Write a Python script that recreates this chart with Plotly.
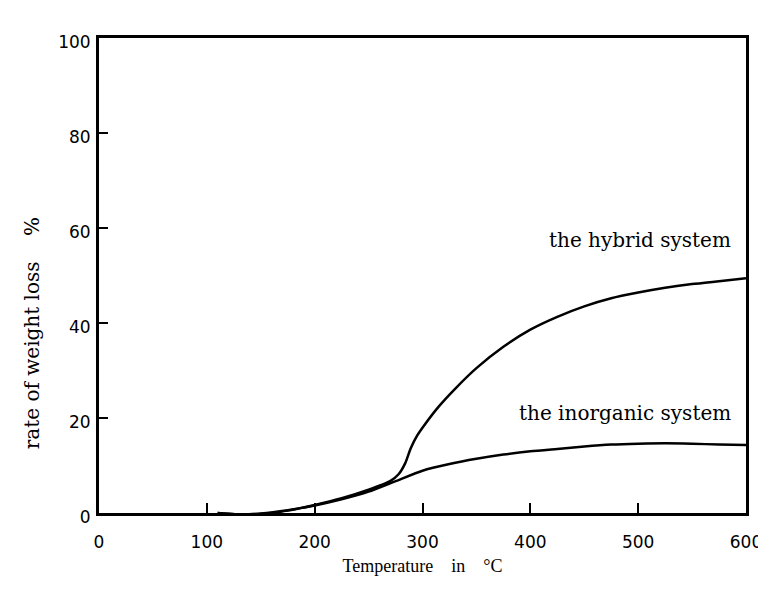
import plotly.graph_objects as go

# Temperature (°C) and rate of weight loss (%)
temp_hybrid = [110, 130, 150, 175, 200, 225, 250, 270, 278, 284, 289, 295, 302, 315, 330, 350,
               375, 400, 425, 450, 475, 500, 525, 550, 575, 600]
loss_hybrid = [0.0, -0.3, -0.2, 0.5, 1.7, 3.1, 4.9, 6.7, 8.2, 10.5, 13.6, 16.3, 18.6, 22.4, 26.1,
               30.5, 35.0, 38.6, 41.3, 43.5, 45.2, 46.4, 47.4, 48.2, 48.8, 49.4]

temp_inorganic = [110, 130, 150, 175, 200, 225, 250, 275, 300, 325, 350, 375, 400, 425, 450,
                  475, 500, 525, 550, 575, 600]
loss_inorganic = [0.0, -0.3, -0.1, 0.6, 1.6, 2.9, 4.5, 6.7, 8.9, 10.3, 11.4, 12.3, 13.0, 13.5,
                  14.0, 14.4, 14.6, 14.7, 14.6, 14.4, 14.3]

x_ticks = [0, 100, 200, 300, 400, 500, 600]
y_ticks = [0, 20, 40, 60, 80, 100]

label_hybrid = "the hybrid system"
label_inorganic = "the inorganic system"
x_title = "Temperature\u00a0\u00a0\u00a0\u00a0in\u00a0\u00a0\u00a0\u00a0°C"
y_title = "rate of weight loss\u00a0\u00a0\u00a0\u00a0%"

fig = go.Figure()
fig.add_trace(go.Scatter(x=temp_hybrid, y=loss_hybrid, mode="lines",
                         line=dict(color="black", width=2.5, shape="spline", smoothing=0.6),
                         showlegend=False, hoverinfo="skip"))
fig.add_trace(go.Scatter(x=temp_inorganic, y=loss_inorganic, mode="lines",
                         line=dict(color="black", width=2.5, shape="spline", smoothing=0.6),
                         showlegend=False, hoverinfo="skip"))

fig.add_annotation(x=588, y=57.5, xref="x", yref="y", text=label_hybrid, showarrow=False,
                   xanchor="right", yanchor="middle",
                   font=dict(family="DejaVu Serif", size=20, color="black"))
fig.add_annotation(x=588, y=21.1, xref="x", yref="y", text=label_inorganic, showarrow=False,
                   xanchor="right", yanchor="middle",
                   font=dict(family="DejaVu Serif", size=20, color="black"))
fig.add_annotation(x=-0.103, y=0.379, xref="paper", yref="paper", text=y_title, showarrow=False,
                   textangle=-90, xanchor="center", yanchor="middle",
                   font=dict(family="DejaVu Serif", size=20, color="black"))

fig.update_layout(
    width=766, height=592,
    margin=dict(l=91, r=25, t=30, b=87),
    paper_bgcolor="white", plot_bgcolor="white",
    xaxis=dict(range=[0, 600], tickvals=x_ticks, ticks="inside", ticklen=10, tickwidth=2,
               tickcolor="black", showline=True, linewidth=3, linecolor="black", mirror=True,
               showgrid=False, zeroline=False, ticklabelstandoff=12,
               tickfont=dict(family="DejaVu Sans", size=17, color="black"),
               title=dict(text=x_title, standoff=8,
                          font=dict(family="Liberation Serif", size=18, color="black"))),
    yaxis=dict(range=[0, 100], tickvals=y_ticks, ticks="inside", ticklen=9, tickwidth=2,
               tickcolor="black", showline=True, linewidth=3, linecolor="black", mirror=True,
               showgrid=False, zeroline=False, ticklabelstandoff=2, ticklabelshift=4,
               tickfont=dict(family="DejaVu Sans", size=17, color="black")),
)

fig.write_html("out.html")
